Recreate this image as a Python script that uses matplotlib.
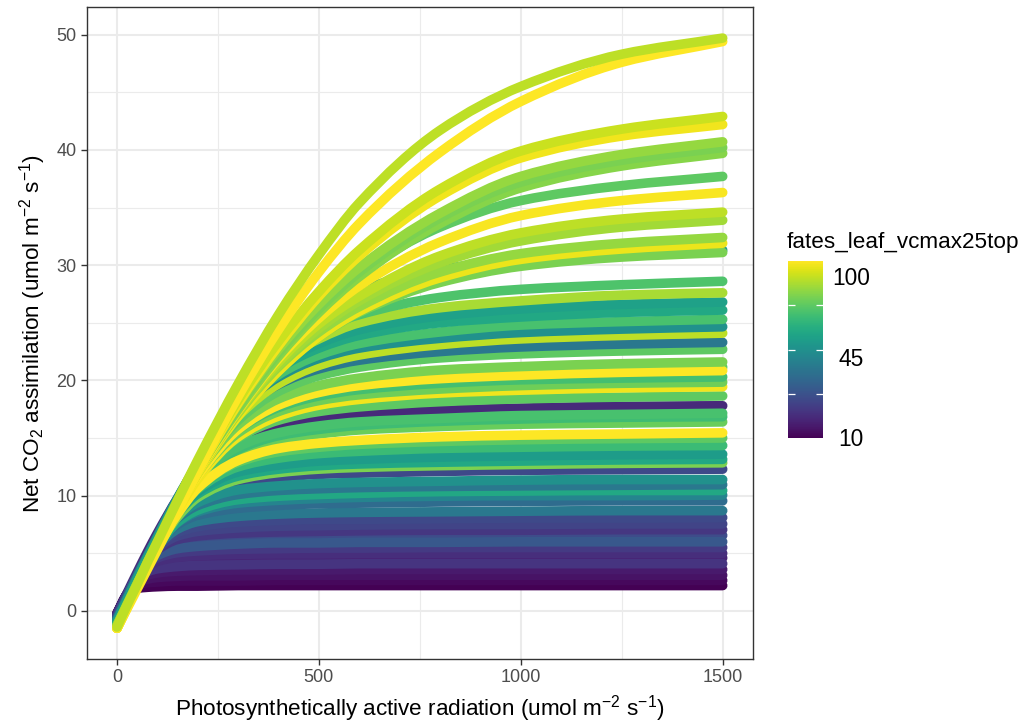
import matplotlib
matplotlib.use("Agg")
import matplotlib.pyplot as plt
from matplotlib import cm, colors
from matplotlib.path import Path
from matplotlib.patches import PathPatch

plt.rcParams['font.family'] = ['Liberation Sans', 'DejaVu Sans']
plt.rcParams['mathtext.fontset'] = 'custom'
plt.rcParams['mathtext.rm'] = 'Liberation Sans'
plt.rcParams['mathtext.it'] = 'Liberation Sans:italic'
plt.rcParams['mathtext.default'] = 'regular'

# Light levels (umol m-2 s-1) at which net assimilation is tabulated
par = [0, 25, 50, 75, 100, 150, 200, 300, 400, 500, 600, 800, 1000, 1250, 1500]

# Low-capacity ensemble members
vcmax_low = [10, 12, 15, 17, 20, 25, 23, 27, 33, 37, 26, 30, 32, 50, 45, 55, 70, 50]
anet_low = [
    [-0.2, 1.4, 1.95, 2.05, 2.1, 2.15, 2.15, 2.2, 2.2, 2.2, 2.2, 2.2, 2.2, 2.2, 2.2],
    [-0.2, 1.45, 2.2, 2.45, 2.5, 2.6, 2.6, 2.6, 2.65, 2.65, 2.65, 2.65, 2.65, 2.65, 2.65],
    [-0.25, 1.45, 2.45, 2.75, 2.9, 3.0, 3.05, 3.05, 3.1, 3.1, 3.1, 3.1, 3.1, 3.1, 3.1],
    [-0.25, 1.5, 2.65, 3.1, 3.3, 3.45, 3.5, 3.55, 3.55, 3.55, 3.6, 3.6, 3.6, 3.6, 3.6],
    [-0.3, 1.45, 2.85, 3.65, 4.05, 4.3, 4.4, 4.5, 4.55, 4.55, 4.55, 4.6, 4.6, 4.6, 4.6],
    [-0.35, 1.4, 2.7, 3.4, 3.65, 3.85, 3.95, 4.0, 4.05, 4.05, 4.1, 4.1, 4.1, 4.1, 4.1],
    [-0.35, 1.45, 2.9, 3.85, 4.3, 4.65, 4.8, 4.9, 4.95, 4.95, 5.0, 5.0, 5.0, 5.0, 5.0],
    [-0.35, 1.45, 2.95, 4.05, 4.6, 5.05, 5.2, 5.35, 5.4, 5.45, 5.45, 5.5, 5.5, 5.5, 5.5],
    [-0.5, 1.3, 2.9, 4.2, 5.05, 5.8, 6.1, 6.3, 6.4, 6.45, 6.45, 6.5, 6.5, 6.5, 6.55],
    [-0.5, 1.3, 2.9, 4.05, 4.8, 5.4, 5.6, 5.8, 5.9, 5.9, 5.95, 5.95, 6.0, 6.0, 6.0],
    [-0.4, 1.4, 3.05, 4.4, 5.3, 6.2, 6.5, 6.75, 6.85, 6.9, 6.95, 7.0, 7.0, 7.05, 7.05],
    [-0.4, 1.4, 3.1, 4.45, 5.45, 6.5, 6.9, 7.2, 7.35, 7.4, 7.45, 7.5, 7.5, 7.55, 7.55],
    [-0.45, 1.4, 3.05, 4.5, 5.6, 6.8, 7.3, 7.7, 7.85, 7.95, 7.95, 8.0, 8.05, 8.05, 8.1],
    [-0.7, 1.15, 2.85, 4.35, 5.6, 7.1, 7.75, 8.2, 8.4, 8.5, 8.55, 8.6, 8.65, 8.7, 8.7],
    [-0.65, 1.15, 2.9, 4.45, 5.8, 7.5, 8.3, 8.9, 9.15, 9.3, 9.35, 9.45, 9.5, 9.55, 9.55],
    [-0.75, 1.1, 2.8, 4.4, 5.75, 7.65, 8.6, 9.35, 9.6, 9.75, 9.85, 9.95, 10.0, 10.0, 10.05],
    [-1.0, 0.85, 2.6, 4.2, 5.6, 7.7, 8.75, 9.65, 9.95, 10.1, 10.2, 10.35, 10.4, 10.45, 10.45],
    [-0.7, 1.15, 2.9, 4.55, 5.95, 8.05, 9.15, 10.1, 10.45, 10.6, 10.7, 10.8, 10.85, 10.9, 10.95],
]

# Intermediate ensemble members
vcmax_mid = [22, 32, 60, 90, 70, 65, 78, 85, 87, 79, 81, 110, 85, 108, 88, 80,
             85, 110, 90, 85, 50, 100, 60, 81, 70, 67, 97, 82]
anet_mid = [
    [-0.3, 1.55, 3.35, 5.1, 6.75, 9.75, 12.15, 14.95, 16.1, 16.7, 17.05, 17.4, 17.6, 17.75, 17.8],
    [-0.45, 1.4, 3.15, 4.8, 6.3, 8.65, 10.0, 11.2, 11.6, 11.85, 11.95, 12.1, 12.2, 12.25, 12.3],
    [-0.85, 1.0, 2.75, 4.4, 5.85, 8.15, 9.4, 10.5, 10.85, 11.05, 11.15, 11.25, 11.35, 11.4, 11.4],
    [-1.3, 0.55, 2.3, 4.0, 5.55, 8.15, 9.85, 11.4, 12.0, 12.3, 12.45, 12.6, 12.7, 12.8, 12.85],
    [-1.0, 0.85, 2.6, 4.3, 5.85, 8.45, 10.15, 11.7, 12.3, 12.6, 12.75, 12.9, 13.0, 13.1, 13.15],
    [-0.9, 0.95, 2.75, 4.4, 6.0, 8.6, 10.35, 12.05, 12.65, 13.0, 13.15, 13.35, 13.45, 13.55, 13.6],
    [-1.1, 0.75, 2.55, 4.25, 5.85, 8.55, 10.55, 12.5, 13.25, 13.65, 13.85, 14.1, 14.2, 14.3, 14.35],
    [-1.2, 0.65, 2.45, 4.15, 5.8, 8.6, 10.7, 12.9, 13.8, 14.2, 14.45, 14.7, 14.85, 14.95, 15.0],
    [-1.2, 0.65, 2.45, 4.2, 5.85, 8.75, 11.1, 13.75, 14.85, 15.35, 15.7, 16.0, 16.2, 16.3, 16.4],
    [-1.1, 0.75, 2.55, 4.25, 5.95, 8.9, 11.25, 14.0, 15.2, 15.75, 16.1, 16.45, 16.65, 16.8, 16.85],
    [-1.15, 0.7, 2.55, 4.3, 6.0, 9.0, 11.4, 14.25, 15.45, 16.05, 16.4, 16.7, 16.95, 17.05, 17.15],
    [-1.5, 0.35, 2.15, 3.85, 5.5, 8.4, 10.65, 13.05, 14.1, 14.55, 14.8, 15.1, 15.25, 15.35, 15.45],
    [-1.2, 0.65, 2.45, 4.2, 5.9, 9.0, 11.6, 15.0, 16.55, 17.3, 17.7, 18.15, 18.4, 18.55, 18.65],
    [-1.5, 0.35, 2.15, 3.9, 5.6, 8.75, 11.45, 15.1, 16.9, 17.85, 18.35, 18.9, 19.15, 19.35, 19.45],
    [-1.25, 0.6, 2.4, 4.15, 5.9, 9.05, 11.75, 15.45, 17.3, 18.25, 18.75, 19.25, 19.55, 19.75, 19.85],
    [-1.1, 0.75, 2.6, 4.35, 6.05, 9.25, 12.0, 15.75, 17.65, 18.65, 19.2, 19.75, 20.05, 20.2, 20.3],
    [-1.2, 0.65, 2.5, 4.25, 5.95, 9.2, 12.0, 16.05, 18.15, 19.25, 19.85, 20.45, 20.75, 21.0, 21.15],
    [-1.5, 0.35, 2.2, 3.95, 5.65, 8.9, 11.7, 15.75, 17.85, 18.95, 19.55, 20.15, 20.45, 20.7, 20.85],
    [-1.3, 0.55, 2.4, 4.15, 5.85, 9.15, 12.0, 16.15, 18.4, 19.55, 20.2, 20.9, 21.2, 21.45, 21.6],
    [-1.2, 0.65, 2.5, 4.25, 6.0, 9.25, 12.15, 16.55, 19.05, 20.4, 21.15, 21.95, 22.3, 22.55, 22.7],
    [-0.7, 1.15, 3.0, 4.75, 6.5, 9.8, 12.7, 17.1, 19.65, 21.0, 21.75, 22.5, 22.9, 23.15, 23.3],
    [-1.4, 0.45, 2.3, 4.1, 5.8, 9.15, 12.15, 16.9, 19.7, 21.3, 22.2, 23.1, 23.6, 23.9, 24.1],
    [-0.85, 1.0, 2.85, 4.65, 6.35, 9.7, 12.7, 17.45, 20.3, 21.9, 22.8, 23.65, 24.15, 24.45, 24.65],
    [-1.15, 0.7, 2.55, 4.35, 6.1, 9.4, 12.5, 17.4, 20.5, 22.2, 23.2, 24.2, 24.8, 25.1, 25.3],
    [-1.0, 0.85, 2.7, 4.45, 6.2, 9.6, 12.7, 17.7, 21.0, 22.8, 23.9, 25.0, 25.5, 25.9, 26.1],
    [-0.95, 0.9, 2.75, 4.55, 6.3, 9.7, 12.8, 17.9, 21.3, 23.2, 24.4, 25.6, 26.2, 26.6, 26.8],
    [-1.35, 0.5, 2.35, 4.15, 5.9, 9.3, 12.5, 17.8, 21.5, 23.6, 25.0, 26.3, 26.9, 27.4, 27.6],
    [-1.15, 0.7, 2.55, 4.35, 6.1, 9.5, 12.7, 18.1, 21.9, 24.4, 25.7, 27.2, 27.9, 28.3, 28.6],
]

# High-capacity ensemble members
vcmax_high = [65, 90, 107, 94, 96, 100, 109, 85, 92, 90, 94, 108, 102, 110, 100]
anet_high = [
    [-0.9, 0.9, 2.7, 4.5, 6.2, 9.6, 12.9, 18.7, 23.1, 26.0, 27.8, 29.6, 30.5, 31.0, 31.3],
    [-1.3, 0.5, 2.3, 4.1, 5.8, 9.1, 12.1, 17.0, 20.9, 23.8, 25.9, 28.5, 29.9, 30.7, 31.1],
    [-1.5, 0.3, 2.1, 3.9, 5.6, 8.9, 11.9, 16.9, 20.8, 23.8, 26.0, 28.9, 30.5, 31.4, 31.9],
    [-1.3, 0.5, 2.3, 4.1, 5.8, 9.1, 12.1, 17.2, 21.2, 24.2, 26.4, 29.4, 31.0, 31.9, 32.4],
    [-1.35, 0.45, 2.25, 4.0, 5.7, 9.0, 12.0, 17.2, 21.3, 24.5, 26.9, 30.2, 32.1, 33.3, 33.9],
    [-1.4, 0.4, 2.2, 4.0, 5.7, 9.0, 12.0, 17.3, 21.6, 24.9, 27.3, 30.8, 32.8, 34.0, 34.6],
    [-1.5, 0.3, 2.1, 3.9, 5.6, 8.9, 12.0, 17.4, 21.9, 25.4, 28.2, 32.0, 34.3, 35.6, 36.3],
    [-1.2, 0.6, 2.4, 4.2, 5.9, 9.2, 12.4, 18.0, 22.7, 26.4, 29.3, 33.3, 35.6, 36.9, 37.7],
    [-1.3, 0.5, 2.3, 4.1, 5.8, 9.1, 12.2, 17.5, 22.1, 25.9, 29.0, 33.6, 36.7, 38.6, 39.7],
    [-1.3, 0.5, 2.3, 4.1, 5.8, 9.1, 12.2, 17.7, 22.4, 26.2, 29.4, 34.1, 37.2, 39.1, 40.2],
    [-1.3, 0.5, 2.3, 4.1, 5.8, 9.1, 12.2, 17.9, 22.7, 26.6, 29.8, 34.5, 37.7, 39.6, 40.7],
    [-1.5, 0.3, 2.1, 3.9, 5.6, 8.9, 12.1, 18.0, 23.0, 27.3, 30.8, 36.0, 39.3, 41.2, 42.2],
    [-1.4, 0.4, 2.2, 4.0, 5.7, 9.1, 12.3, 18.3, 23.4, 27.7, 31.3, 36.6, 39.9, 41.8, 42.9],
    [-1.5, 0.2, 1.9, 3.6, 5.3, 8.7, 12.1, 18.6, 24.4, 29.4, 33.6, 39.8, 44.2, 47.6, 49.4],
    [-1.4, 0.5, 2.3, 4.2, 6.0, 9.6, 13.1, 19.7, 25.7, 30.9, 35.4, 41.7, 45.5, 48.3, 49.7],
]

x_ticks = [0, 500, 1000, 1500]
y_ticks = [0, 10, 20, 30, 40, 50]
legend_ticks = [10, 45, 100]


def curve_path(xs, ys):
    """Smooth monotone (Fritsch-Carlson) cubic Bezier path through the points."""
    n = len(xs)
    h = [xs[i + 1] - xs[i] for i in range(n - 1)]
    d = [(ys[i + 1] - ys[i]) / h[i] for i in range(n - 1)]
    m = [0.0] * n
    m[0], m[-1] = d[0], d[-1]
    for k in range(1, n - 1):
        if d[k - 1] * d[k] <= 0:
            m[k] = 0.0
        else:
            w1 = 2 * h[k] + h[k - 1]
            w2 = h[k] + 2 * h[k - 1]
            m[k] = (w1 + w2) / (w1 / d[k - 1] + w2 / d[k])
    verts = [(xs[0], ys[0])]
    codes = [Path.MOVETO]
    for i in range(n - 1):
        t = h[i] / 3.0
        verts += [(xs[i] + t, ys[i] + m[i] * t),
                  (xs[i + 1] - t, ys[i + 1] - m[i + 1] * t),
                  (xs[i + 1], ys[i + 1])]
        codes += [Path.CURVE4] * 3
    return Path(verts, codes)


W, H = 1033, 724
fig = plt.figure(figsize=(W / 100, H / 100), dpi=100)
ax = fig.add_axes([86.7 / W, 1 - 659 / H, (753 - 86.7) / W, (659 - 7.3) / H])

norm = colors.Normalize(vmin=10, vmax=110)
cmap = plt.get_cmap('viridis')

for vc_group, an_group in ((vcmax_low, anet_low), (vcmax_mid, anet_mid), (vcmax_high, anet_high)):
    for vc, row in zip(vc_group, an_group):
        ax.add_patch(PathPatch(curve_path(par, row), facecolor='none',
                               edgecolor=cmap(norm(vc)), lw=6.9,
                               capstyle='round', joinstyle='round', zorder=3))

ax.set_xlim(-75, 1575)
ax.set_ylim(-4.17, 52.37)
ax.set_xticks(x_ticks)
ax.set_xticks([250, 750, 1250], minor=True)
ax.set_yticks(y_ticks)
ax.set_yticks([5, 15, 25, 35, 45], minor=True)
ax.set_axisbelow(True)
ax.grid(which='major', color='#EBEBEB', lw=1.5)
ax.grid(which='minor', color='#EBEBEB', lw=0.8)
for sp in ax.spines.values():
    sp.set_color('#333333')
    sp.set_linewidth(1.0)
ax.tick_params(which='major', length=4.0, width=1.0, color='#333333',
               labelcolor='#4D4D4D', labelsize=13, pad=3.5)
ax.tick_params(which='minor', length=0)

fig.text(420 / W, 1 - 709 / H,
         r'Photosynthetically active radiation (umol m$^{-2}$ s$^{-1}$)',
         ha='center', va='center', fontsize=16.2, color='black')
fig.text(33 / W, 1 - 333 / H,
         r'Net CO$_2$ assimilation (umol m$^{-2}$ s$^{-1}$)',
         ha='center', va='center', rotation=90, fontsize=16.2, color='black')

# Colour bar legend
cax = fig.add_axes([787.7 / W, 1 - 438.3 / H, 35.6 / W, 177.3 / H])
sm = cm.ScalarMappable(norm=norm, cmap=cmap)
cb = fig.colorbar(sm, cax=cax, ticks=[35, 60, 85])
cb.outline.set_visible(False)
cax.tick_params(length=4.8, width=0.9, color='white', direction='in',
                left=True, right=True, labelleft=False, labelright=False)

fig.text(787 / W, 1 - 248 / H, 'fates_leaf_vcmax25top',
         ha='left', va='baseline', fontsize=16.2, color='black')
for lab, yb in zip(legend_ticks, [446, 366, 285]):
    fig.text(851 / W, 1 - yb / H, str(lab), ha='center', va='baseline',
             fontsize=16.4, color='black')

fig.savefig('out.png', dpi=100)
